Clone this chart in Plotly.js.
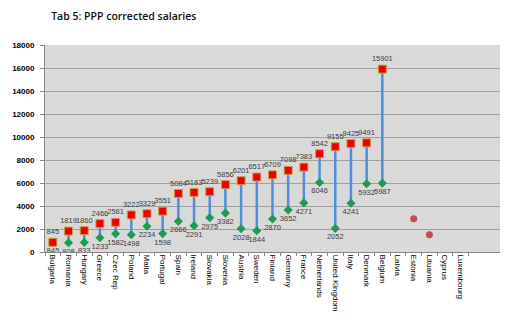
<!DOCTYPE html>
<html><head><meta charset="utf-8">
<script src="https://cdn.plot.ly/plotly-3.0.1.min.js"></script>
<style>body{margin:0;background:#fff}#c{width:512px;height:323px}</style>
</head><body><div id="c"></div>
<script>
const countries = ["Bulgaria","Romania","Hungary","Greece","Czec Rep","Poland","Malta","Portugal","Spain","Ireland","Slovakia","Slovenia","Austria","Sweden","Finland","Germany","France","Netherlands","United Kingdom","Italy","Denmark","Belgium","Latvia","Estonia","Lituania","Cyprus","Luxembourg"];
const rangeCountries = countries.slice(0,22);
const highValues = [845,1819,1860,2466,2581,3222,3329,3551,5084,5183,5239,5856,6201,6517,6709,7098,7383,8542,9155,9425,9491,15901];
const lowValues  = [845,808,833,1233,1582,1498,2234,1598,2666,2291,2975,3382,2028,1844,2870,3652,4271,6046,2052,4241,5932,5987];
const singleCountries = ["Estonia","Lituania"];
const singleValues = [2900,1500];

const lx=[], ly=[];
rangeCountries.forEach((c,i)=>{lx.push(c,c,null);ly.push(highValues[i],lowValues[i],null);});

const lblFont={family:"Liberation Sans, Arial",size:7.5,color:"#404040"};
const traces=[
 {x:lx,y:ly,type:"scatter",mode:"lines",line:{color:"#4f8fdc",width:2.5},connectgaps:false,hoverinfo:"skip"},
 {x:rangeCountries,y:lowValues,type:"scatter",mode:"markers+text",text:lowValues.map(String),textposition:"bottom center",textfont:lblFont,
  marker:{symbol:"diamond",size:7,color:"#1f9a55"}},
 {x:rangeCountries,y:highValues,type:"scatter",mode:"markers+text",text:highValues.map(String),textposition:"top center",textfont:lblFont,
  marker:{symbol:"square",size:8,color:"#f00000",line:{color:"#c8a040",width:1}}},
 {x:singleCountries,y:singleValues,type:"scatter",mode:"markers",marker:{symbol:"circle",size:7,color:"#c0504d"}}
];
const layout={
 width:512,height:323,showlegend:false,
 paper_bgcolor:"#ffffff",plot_bgcolor:"#d9d9d9",
 margin:{l:45,r:12,t:45,b:71},
 title:{text:"Tab 5: PPP corrected salaries",x:0.1,xanchor:"left",y:0.95,yanchor:"middle",font:{family:"Open Sans",size:10.5,color:"#111",weight:600}},
 xaxis:{type:"category",categoryorder:"array",categoryarray:countries,range:[-0.5,28.5],
  tickangle:90,tickfont:{family:"Liberation Sans, Arial",size:8,color:"#000"},
  ticks:"outside",tickson:"boundaries",ticklen:3,tickcolor:"#888",showgrid:false,
  showline:true,linecolor:"#888",linewidth:1,zeroline:false,fixedrange:true},
 yaxis:{range:[0,18000],dtick:2000,tickformat:"d",tickfont:{family:"Liberation Sans, Arial",size:8,color:"#000",weight:"bold"},
  showgrid:true,gridcolor:"#a0a0a0",gridwidth:1,ticks:"outside",ticklen:4,tickcolor:"#888",
  showline:true,linecolor:"#888",zeroline:false,ticklabelstandoff:4}
};
Plotly.newPlot("c",traces,layout,{staticPlot:true});
</script></body></html>
